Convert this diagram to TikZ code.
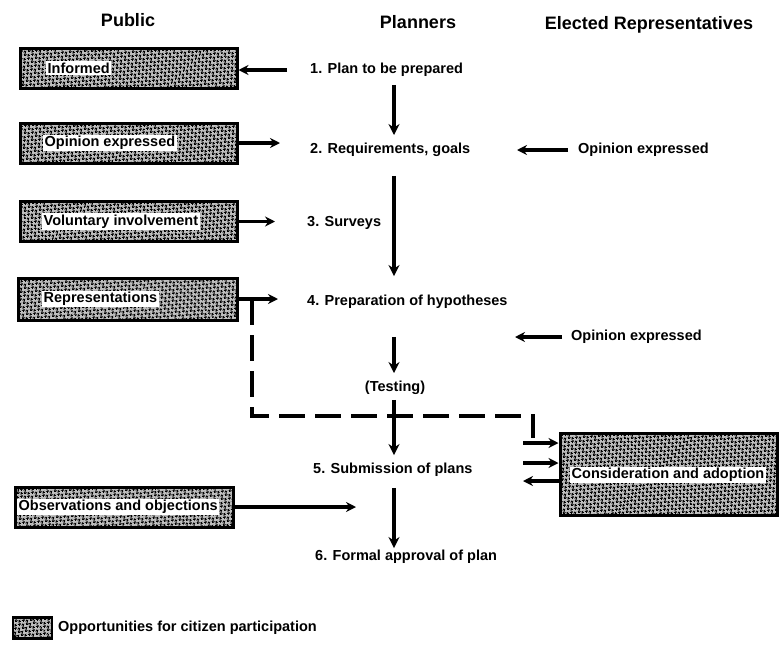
\documentclass[tikz,border=0pt]{standalone}
\usepackage{fontspec}
\setmainfont{Liberation Sans}
\usetikzlibrary{arrows.meta,patterns.meta}

% diagonal checker used for the participation boxes
\tikzdeclarepattern{
  name=mesh,
  type=uncolored,
  bottom left={(0pt,0pt)},
  top right={(5pt,5pt)},
  tile size={(5pt,5pt)},
  tile transformation={rotate=45},
  code={
    \fill (0pt,0pt) rectangle (2.5pt,2.5pt);
    \fill (2.5pt,2.5pt) rectangle (5pt,5pt);
  }
}

\tikzset{
  body/.style={font=\bfseries\fontsize{14.5}{17}\selectfont, inner sep=0pt},
  hdr/.style={font=\bfseries\fontsize{18}{21}\selectfont, inner sep=0pt},
  steptext/.style={body, anchor=west},
  pbox/.style={draw, line width=3pt, preaction={fill=black!25}, pattern=mesh,
    pattern color=black, minimum width=217pt, minimum height=40pt, inner sep=0pt},
  ptext/.style={body, fill=white, inner sep=1.5pt, anchor=west},
  arr/.style={line width=3.3pt, -{Stealth[length=10pt,width=10pt]}},
  spinearr/.style={line width=4pt, -{Stealth[length=11pt,width=11pt]}},
  dsh/.style={line width=3.2pt, dash pattern=on 26pt off 10pt}
}

\begin{document}
\begin{tikzpicture}[x=1pt,y=-1pt]
\useasboundingbox (0,0) rectangle (780,651);

% column headings
\node[hdr] (hPub)  at (128,20) {Public};
\node[hdr] (hPlan) at (418,22) {Planners};
\node[hdr] (hEl)   at (649,25) {Elected Representatives};

% public participation boxes
\node[pbox] (inf) at (128.5,68) {};
\node[ptext] (infT) at (46,68) {Informed};
\node[pbox] (op) at (128.5,143) {};
\node[ptext] (opT) at (43,143) {Opinion expressed};
\node[pbox] (vol) at (128.5,221.5) {};
\node[ptext] (volT) at (42,221.5) {Voluntary involvement};
\node[pbox, minimum width=219pt, minimum height=42pt] (rep) at (127.5,299) {};
\node[ptext] (repT) at (42,299) {Representations};
\node[pbox, minimum width=218pt] (obs) at (124,507) {};
\node[ptext] (obsT) at (17,507) {Observations and objections};

% elected representatives box
\node[pbox, minimum height=82pt] (cons) at (668.5,474) {};
\node[body, fill=white, inner sep=1.5pt] (consT) at (668,475) {Consideration and adoption};

% planning steps
\node[steptext] (s1) at (310,70) {1. Plan to be prepared};
\node[steptext] (s2) at (310,150) {2. Requirements, goals};
\node[steptext] (s3) at (307,223) {3. Surveys};
\node[steptext] (s4) at (307,302) {4. Preparation of hypotheses};
\node[body] (test) at (395,388) {(Testing)};
\node[steptext] (s5) at (313,470) {5. Submission of plans};
\node[steptext] (s6) at (315,557) {6. Formal approval of plan};

% opinions of elected representatives
\node[steptext] (e1) at (578,150) {Opinion expressed};
\node[steptext] (e2) at (571,337) {Opinion expressed};

% legend
\node[pbox, minimum width=39pt, minimum height=21pt, line width=2.4pt] (leg) at (32.5,628) {};
\node[steptext] (legT) at (58,628) {Opportunities for citizen participation};

% main sequence of the planners
\coordinate (spine) at (394,0);
\draw[spinearr] ([yshift=-8pt]s1.south -| spine) -- ([yshift=8pt]s2.north -| spine);
\draw[spinearr] ([yshift=-19pt]s2.south -| spine) -- ([yshift=19pt]s4.north -| spine);
\draw[spinearr] ([yshift=-28pt]s4.south -| spine) -- ([yshift=8pt]test.north -| spine);
\draw[spinearr] ([yshift=-5pt]test.south -| spine) -- ([yshift=8pt]s5.north -| spine);
\draw[spinearr] ([yshift=-11pt]s5.south -| spine) -- ([yshift=2pt]s6.north -| spine);

% links between the public and the planners
\draw[arr, shorten <=23pt] (s1.west) -- (s1.west -| inf.east);
\draw[arr, shorten >=30pt] (op.east) -- (op.east -| s2.west);
\draw[arr, shorten >=32pt] (vol.east) -- (vol.east -| s3.west);
\draw[arr, shorten >=29pt] (rep.east) -- (rep.east -| s4.west);
\coordinate (obsEnd) at (356,507);
\draw[arr] (obs.east) -- (obsEnd);

% opinions fed in by the elected representatives
\draw[arr] ([xshift=-10pt]e1.west) -- ([xshift=-61pt]e1.west);
\draw[arr] ([xshift=-9pt]e2.west) -- ([xshift=-56pt]e2.west);

% representations passed on to the elected representatives
\coordinate (dx) at (252,416);
\coordinate (dy) at (533,416);
\coordinate (dz) at (533,438);
\draw[dsh] (rep.east -| dx) -- (dx) -- (dy) -- (dz);
\coordinate (cA) at (523,443);
\coordinate (cB) at (523,463);
\coordinate (cC) at (523,481);
\draw[arr] (cA) -- (cons.west |- cA);
\draw[arr] (cB) -- (cons.west |- cB);
\draw[arr] (cons.west |- cC) -- (cC);
\end{tikzpicture}
\end{document}
